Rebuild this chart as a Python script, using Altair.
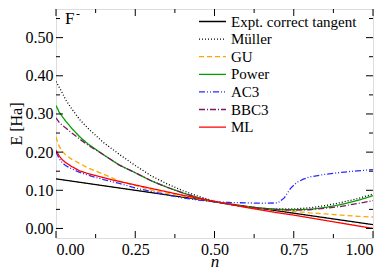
import altair as alt
import pandas as pd

names = ["Expt. correct tangent", "Müller", "GU", "Power", "AC3", "BBC3", "ML"]
colors = ["#000000", "#000000", "#ffa500", "#00a000", "#2a2aff", "#7a1860", "#ff0000"]
dashes = [[1, 0], [1, 2], [5, 3], [1, 0], [6, 2, 1, 2, 1, 2], [6, 2, 1, 2], [1, 0]]
widths = [1.3, 1.3, 1.3, 2.0, 1.3, 1.3, 1.3]

n_expt = [0.0, 1.0]
e_expt = [0.13, 0.01]

n_std = [0, 0.01, 0.02, 0.03, 0.05, 0.075, 0.1, 0.15, 0.2, 0.25, 0.3, 0.35, 0.4,
         0.45, 0.5, 0.55, 0.6, 0.65, 0.7, 0.75, 0.8, 0.85, 0.9, 0.95, 1.0]

e_muller = [0.385, 0.37, 0.355, 0.338, 0.313, 0.285, 0.263, 0.225, 0.194, 0.165, 0.138, 0.117, 0.099,
            0.084, 0.071, 0.062, 0.056, 0.052, 0.051, 0.051, 0.054, 0.06, 0.068, 0.078, 0.09]
e_gu = [0.24, 0.215, 0.202, 0.193, 0.181, 0.17, 0.159, 0.142, 0.124, 0.113, 0.101, 0.092, 0.084,
        0.077, 0.07, 0.064, 0.058, 0.053, 0.049, 0.045, 0.041, 0.038, 0.035, 0.032, 0.03]
e_power = [0.322, 0.305, 0.293, 0.282, 0.262, 0.24, 0.222, 0.193, 0.166, 0.146, 0.125, 0.108, 0.093,
           0.08, 0.07, 0.063, 0.057, 0.053, 0.05, 0.049, 0.05, 0.055, 0.063, 0.073, 0.086]
e_bbc3 = [0.29, 0.278, 0.27, 0.264, 0.25, 0.234, 0.219, 0.193, 0.166, 0.146, 0.125, 0.108, 0.093,
          0.08, 0.07, 0.063, 0.057, 0.053, 0.049, 0.048, 0.049, 0.053, 0.058, 0.065, 0.073]
e_ml = [0.205, 0.19, 0.18, 0.173, 0.162, 0.151, 0.144, 0.133, 0.123, 0.114, 0.105, 0.096, 0.087,
        0.079, 0.071, 0.063, 0.055, 0.048, 0.041, 0.035, 0.028, 0.021, 0.014, 0.007, 0.0]

n_ac3 = [0, 0.01, 0.02, 0.03, 0.05, 0.075, 0.1, 0.15, 0.2, 0.25, 0.3, 0.35, 0.4, 0.45, 0.5,
         0.55, 0.6, 0.65, 0.7, 0.72, 0.74, 0.76, 0.78, 0.8, 0.85, 0.9, 0.95, 1.0]
e_ac3 = [0.2, 0.183, 0.172, 0.165, 0.156, 0.147, 0.14, 0.128, 0.118, 0.106, 0.097, 0.088, 0.08, 0.074, 0.07,
         0.068, 0.067, 0.066, 0.067, 0.08, 0.105, 0.121, 0.129, 0.135, 0.142, 0.147, 0.151, 0.154]

x_major = [0, 0.25, 0.5, 0.75, 1.0]
x_minor = [0.125, 0.375, 0.625, 0.875]
y_major = [0.0, 0.1, 0.2, 0.3, 0.4, 0.5]
y_minor = [0.05, 0.15, 0.25, 0.35, 0.45, 0.55]

series = [
    (names[0], n_expt, e_expt),
    (names[1], n_std, e_muller),
    (names[2], n_std, e_gu),
    (names[3], n_std, e_power),
    (names[4], n_ac3, e_ac3),
    (names[5], n_std, e_bbc3),
    (names[6], n_std, e_ml),
]
rows = []
for name, ns, es in series:
    for i, (a, b) in enumerate(zip(ns, es)):
        rows.append({"series": name, "n": a, "E": b, "order": i})
df = pd.DataFrame(rows)

W, H = 317, 229
FONT = "Liberation Serif"
xscale = alt.Scale(domain=[0, 1], nice=False, zero=False)
yscale = alt.Scale(domain=[-0.025, 0.575], nice=False, zero=False)

xaxis = alt.Axis(values=x_major, format=".2f", ticks=False, domain=False, grid=False,
                 labelFont=FONT, labelFontSize=16, labelPadding=3,
                 title="n", titleFont=FONT, titleFontSize=17, titleFontStyle="italic",
                 titleFontWeight="normal", titlePadding=-4, labelColor="black", titleColor="black")
yaxis = alt.Axis(values=y_major, format=".2f", ticks=False, domain=False, grid=False,
                 labelFont=FONT, labelFontSize=16, labelPadding=3,
                 title="E [Ha]", titleFont=FONT, titleFontSize=16, titleFontWeight="normal",
                 titlePadding=1, labelColor="black", titleColor="black")

lines = alt.Chart(df).mark_line(clip=True, strokeCap="butt").encode(
    x=alt.X("n:Q", scale=xscale, axis=xaxis),
    y=alt.Y("E:Q", scale=yscale, axis=yaxis),
    color=alt.Color("series:N", sort=names, scale=alt.Scale(domain=names, range=colors),
                    legend=alt.Legend(title=None, orient="none", legendX=149, legendY=5,
                                      symbolType="M-2,0H2", symbolSize=182, symbolStrokeWidth=1.5,
                                      labelFont=FONT, labelFontSize=15, labelOffset=11,
                                      rowPadding=1.6, labelLimit=300, padding=0, labelColor="black")),
    strokeDash=alt.StrokeDash("series:N", sort=names, scale=alt.Scale(domain=names, range=dashes),
                              legend=alt.Legend(title=None, orient="none", legendX=149, legendY=5)),
    strokeWidth=alt.StrokeWidth("series:N", scale=alt.Scale(domain=names, range=widths), legend=None),
    order="order:Q",
)

def rule_x(vals, y0, y1):
    return alt.Chart(pd.DataFrame({"n": vals})).mark_rule(color="black", strokeWidth=1).encode(
        x=alt.X("n:Q", scale=xscale, axis=xaxis), y=alt.value(y0), y2=alt.value(y1))

def rule_y(vals, x0, x1):
    return alt.Chart(pd.DataFrame({"E": vals})).mark_rule(color="black", strokeWidth=1).encode(
        y=alt.Y("E:Q", scale=yscale, axis=yaxis), x=alt.value(x0), x2=alt.value(x1))

ticks = [
    rule_x(x_major, H, H - 7), rule_x(x_minor, H, H - 4),
    rule_x(x_major, 0, 7), rule_x(x_minor, 0, 4),
    rule_y(y_major, 0, 7), rule_y(y_minor, 0, 4),
    rule_y(y_major, W, W - 7), rule_y(y_minor, W, W - 4),
]

label_f = alt.Chart(pd.DataFrame({"t": ["F"]})).mark_text(
    font=FONT, fontSize=17, align="left", baseline="alphabetic", color="black").encode(
    text="t:N", x=alt.value(9), y=alt.value(15))
label_m = alt.Chart(pd.DataFrame({"t": ["-"]})).mark_text(
    font=FONT, fontSize=12, align="left", baseline="alphabetic", color="black").encode(
    text="t:N", x=alt.value(20), y=alt.value(9))

chart = alt.layer(lines, *ticks, label_f, label_m).properties(
    width=W, height=H,
    padding={"left": 48, "top": 1, "right": 9, "bottom": 29},
    autosize=alt.AutoSizeParams(type="none"),
).configure_view(stroke="black", strokeWidth=1).configure(background="white")

chart.save("out.html", embed_options={"renderer": "svg", "actions": False})
